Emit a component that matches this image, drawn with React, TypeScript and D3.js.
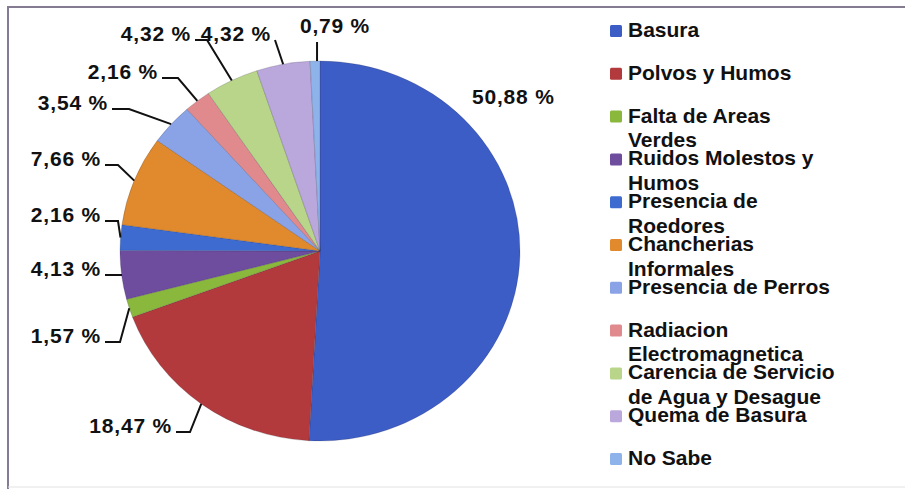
import React from "react";
import * as d3 from "d3";

const categories = [
  "Basura",
  "Polvos y Humos",
  "Falta de Areas Verdes",
  "Ruidos Molestos y Humos",
  "Presencia de Roedores",
  "Chancherias Informales",
  "Presencia de Perros",
  "Radiacion Electromagnetica",
  "Carencia de Servicio de Agua y Desague",
  "Quema de Basura",
  "No Sabe",
];
const legendLines = [
  ["Basura"],
  ["Polvos y Humos"],
  ["Falta de Areas", "Verdes"],
  ["Ruidos Molestos y", "Humos"],
  ["Presencia de", "Roedores"],
  ["Chancherias", "Informales"],
  ["Presencia de Perros"],
  ["Radiacion", "Electromagnetica"],
  ["Carencia de Servicio", "de Agua y Desague"],
  ["Quema de Basura"],
  ["No Sabe"],
];
const values = [50.88, 18.47, 1.57, 4.13, 2.16, 7.66, 3.54, 2.16, 4.32, 4.32, 0.79];
const valueLabels = ["50,88 %", "18,47 %", "1,57 %", "4,13 %", "2,16 %", "7,66 %", "3,54 %", "2,16 %", "4,32 %", "4,32 %", "0,79 %"];
const colors = ["#3c5cc6", "#b23a3c", "#8ab83c", "#6e4c9e", "#3d6bd0", "#e08a2d", "#8aa2e6", "#e08a8e", "#b8d589", "#baa7dc", "#8db3ea"];

// label layout: text x, baseline y, anchor, horizontal leader length (-1 = no leader, -2 = vertical)
const labelLayout = [
  { x: 472, y: 104, anchor: "start", h: -1 },
  { x: 172, y: 433, anchor: "end", h: 14 },
  { x: 101, y: 343, anchor: "end", h: 15 },
  { x: 101, y: 276, anchor: "end", h: 17 },
  { x: 101, y: 222, anchor: "end", h: 13 },
  { x: 101, y: 166, anchor: "end", h: 13 },
  { x: 108, y: 110, anchor: "end", h: 17 },
  { x: 158, y: 79, anchor: "end", h: 16 },
  { x: 191, y: 41, anchor: "end", h: 12 },
  { x: 271, y: 41, anchor: "end", h: 0 },
  { x: 335, y: 33, anchor: "middle", h: -2 },
];

const W = 905;
const H = 489;
const cx = 320;
const cy = 251;
const rx = 200;
const ry = 190;

export default function App() {
  const pie = d3.pie<number>().sort(null).value((d) => d)(values);
  const arc = d3.arc<d3.PieArcDatum<number>>().innerRadius(0).outerRadius(rx);
  const font = "'Liberation Sans', Arial, sans-serif";

  const legendY = d3.scaleLinear().domain([0, categories.length - 1]).range([37, 465]);

  return (
    <svg width={W} height={H} style={{ position: "absolute", left: 0, top: 0, background: "#fff" }}>
      <rect x={0} y={0} width={W} height={H} fill="#fff" />
      <line x1={8} y1={7} x2={W} y2={7} stroke="#857b90" strokeWidth={2} />
      <line x1={8} y1={6} x2={8} y2={489} stroke="#857b96" strokeWidth={2} />
      <line x1={8} y1={487} x2={W} y2={487} stroke="#e2e2e2" strokeWidth={1} />
      <g transform={`translate(${cx},${cy}) scale(1,${ry / rx})`}>
        {pie.map((d, i) => (
          <path key={i} d={arc(d) || ""} fill={colors[i]} stroke="rgba(40,40,60,0.35)" strokeWidth={0.6} />
        ))}
      </g>
      {pie.map((d, i) => {
        const mid = (d.startAngle + d.endAngle) / 2;
        const ax = cx + rx * Math.sin(mid);
        const ay = cy - ry * Math.cos(mid);
        const L = labelLayout[i];
        let leader = null;
        if (L.h >= 0) {
          const sx = L.x + 4;
          const sy = L.y - 1;
          const pts: [number, number][] = [[sx, sy], [sx + L.h, sy], [ax, ay]];
          leader = <path d={d3.line()(pts) || ""} fill="none" stroke="#111" strokeWidth={2} />;
        } else if (L.h === -2) {
          leader = <line x1={ax + 2} y1={L.y + 9} x2={ax + 2} y2={ay} stroke="#111" strokeWidth={2} />;
        }
        return (
          <g key={"l" + i}>
            {leader}
            <text x={L.x} y={L.y} textAnchor={L.anchor as any} fontFamily={font} fontWeight="bold" fontSize={21} letterSpacing={0.8} fill="#111">
              {valueLabels[i]}
            </text>
          </g>
        );
      })}
      {categories.map((c, i) => {
        const y = legendY(i);
        return (
          <g key={"lg" + i}>
            <rect x={610} y={y - 12} width={12} height={12} rx={1.5} fill={colors[i]} />
            {legendLines[i].map((t, j) => (
              <text key={j} x={628} y={y + j * 24.5} fontFamily={font} fontWeight="bold" fontSize={21} fill="#111">
                {t}
              </text>
            ))}
          </g>
        );
      })}
    </svg>
  );
}
